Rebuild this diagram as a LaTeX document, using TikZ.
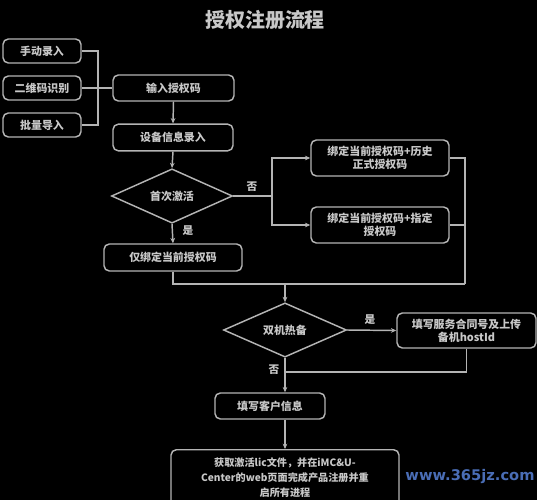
\documentclass[tikz,border=0pt]{standalone}
\usepackage{fontspec}
\setmainfont{Noto Sans CJK SC}
\newfontfamily\wmfont{DejaVu Sans}
\usetikzlibrary{shapes.geometric,arrows.meta}
\definecolor{ln}{HTML}{B4B4B4}
\definecolor{tx}{HTML}{C8C8C8}
\definecolor{wm}{HTML}{4A6DB5}
\tikzset{
  box/.style={draw=ln, line width=1.1pt, rounded corners=4pt, text=tx, font=\bfseries\fontsize{8.2pt}{10pt}\selectfont, align=center, inner sep=1pt},
  dia/.style={draw=ln, line width=1.1pt, diamond, text=tx, font=\bfseries\fontsize{8.2pt}{10pt}\selectfont, inner sep=0pt},
  conn/.style={draw=ln, line width=1.1pt},
  arr/.style={conn, -{Stealth[length=4pt,width=3.5pt]}},
  lab/.style={text=tx, font=\bfseries\fontsize{8pt}{10pt}\selectfont}
}
\begin{document}
\begin{tikzpicture}[x=0.75pt,y=-0.75pt]
\fill[black] (0,0) rectangle (537,500);
\useasboundingbox (0,0) rectangle (537,500);

\node[text=tx, font=\bfseries\fontsize{15pt}{18pt}\selectfont] (title) at (265,20) {授权注册流程};

\node[box, minimum width=58.5pt, minimum height=18pt] (m1) at (42,51) {手动录入};
\node[box, minimum width=58.5pt, minimum height=18pt] (m2) at (42,88) {二维码识别};
\node[box, minimum width=58.5pt, minimum height=18pt] (m3) at (42,125) {批量导入};
\node[box, minimum width=90.75pt, minimum height=19.5pt] (inp) at (173.5,88) {输入授权码};
\node[box, minimum width=90pt, minimum height=20pt] (dev) at (173,137.5) {设备信息录入};
\node[dia, minimum width=90.75pt, minimum height=36pt] (d1) at (172,196) {首次激活};
\node[box, minimum width=103.5pt, minimum height=27pt] (b1) at (380,158) {绑定当前授权码+历史\\正式授权码};
\node[box, minimum width=103.5pt, minimum height=27pt] (b2) at (380,225) {绑定当前授权码+指定\\授权码};
\node[box, minimum width=103.5pt, minimum height=20.25pt] (only) at (173,257.5) {仅绑定当前授权码};
\node[dia, minimum width=92.25pt, minimum height=35.25pt] (d2) at (285,330) {双机热备};
\node[box, minimum width=104.25pt, minimum height=26.25pt] (svc) at (466.5,330.5) {填写服务合同号及上传\\备机hostId};
\node[box, minimum width=82.5pt, minimum height=19.5pt] (cust) at (270,406) {填写客户信息};
\node[box, anchor=north, minimum width=171pt, minimum height=42pt, font=\bfseries\fontsize{7.6pt}{11pt}\selectfont] (fin) at (285,449) {获取激活lic文件，并在iMC\&U-\\Center的web页面完成产品注册并重\\启所有进程};

\coordinate (jx) at (98,88);
\coordinate (j1) at (272,196);
\coordinate (r1) at (465,284);
\coordinate (m284) at (285,284);
\coordinate (s372) at (285,372);

\draw[conn] (m1.east) -| (jx);
\draw[conn] (m3.east) -| (jx);
\draw[conn] (m2.east) -- (inp.west);
\draw[arr] (inp.south) -- (dev.north);
\draw[arr] (dev.south) -- (d1.north);
\draw[conn] (d1.east) -- (j1);
\draw[arr] (j1) |- (b1.west);
\draw[arr] (j1) |- (b2.west);
\draw[conn] (b1.east) -| (r1);
\draw[conn] (b2.east) -- (b2.east -| r1);
\draw[arr] (d1.south) -- (only.north);
\draw[conn] (only.south) -- (only.south |- r1) -- (r1);
\draw[arr] (m284) -- (d2.north);
\draw[arr] (d2.east) -- (svc.west);
\draw[conn] (svc.south) |- (s372);
\draw[arr] (d2.south) -- (d2.south |- cust.north);
\draw[arr] (d2.south |- cust.south) -- (fin.north);

\node[lab] (no1) at (252,187) {否};
\node[lab] (yes1) at (188,231) {是};
\node[lab] (yes2) at (370,320) {是};
\node[lab] (no2) at (274,370) {否};

\node[text=wm, font=\wmfont\bfseries\fontsize{11pt}{13pt}\selectfont] (wmk) at (470,477) {www.365jz.com};
\end{tikzpicture}
\end{document}
